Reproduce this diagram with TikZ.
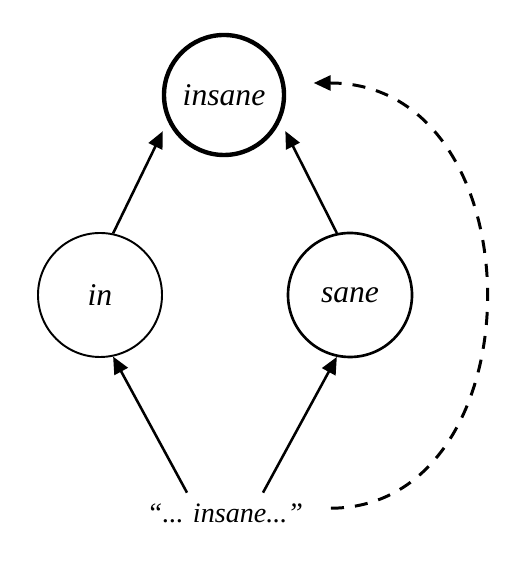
\documentclass[tikz,border=0pt]{standalone}
\usepackage{fontspec}
\setmainfont{Liberation Serif}
\usepackage{tikz}
\usetikzlibrary{arrows.meta}
\tikzset{
  wordnode/.style={circle, draw=black, minimum size=2.48cm, inner sep=0pt,
    font=\fontsize{18}{22}\selectfont\itshape, line width=1.1pt},
  topnode/.style={wordnode, minimum size=2.4cm, line width=2.5pt},
  partnode/.style={wordnode, line width=1.5pt},
  quotenode/.style={inner sep=0.21cm, text height=0.39cm, text depth=0cm,
    font=\fontsize{16}{20}\selectfont\itshape},
  arrow/.style={-{Triangle[length=0.34cm, width=0.3cm]}, line width=1.45pt},
  dasharrow/.style={-{Triangle[length=0.34cm, width=0.3cm]}, line width=1.7pt,
    dash pattern=on 7.4pt off 6.3pt}
}
\begin{document}
\begin{tikzpicture}
  \useasboundingbox (0,0) rectangle (10.6,11.24);
  \node[topnode] (insane) at (4.48,9.34) {insane};
  \node[wordnode] (in) at (2.0,5.34) {in};
  \node[partnode] (sane) at (7.0,5.34) {sane};
  \node[quotenode, anchor=base] (quote) at (4.5,0.78) {“... insane...”};
  % parts up to the whole word
  \draw[arrow] ([xshift=-0.76cm]quote.north) -- (in.-78);
  \draw[arrow] ([xshift=0.76cm]quote.north) -- (sane.-102);
  \draw[arrow, shorten >=0.22cm] (in.78) -- (insane.-155);
  \draw[arrow, shorten >=0.22cm] (sane.102) -- (insane.-25);
  % direct link
  \draw[dasharrow] ([xshift=0.34cm,yshift=0.1cm]quote.east)
    .. controls (10.8,1.1) and (10.8,9.58) .. ([xshift=0.55cm,yshift=0.24cm]insane.east);
\end{tikzpicture}
\end{document}
